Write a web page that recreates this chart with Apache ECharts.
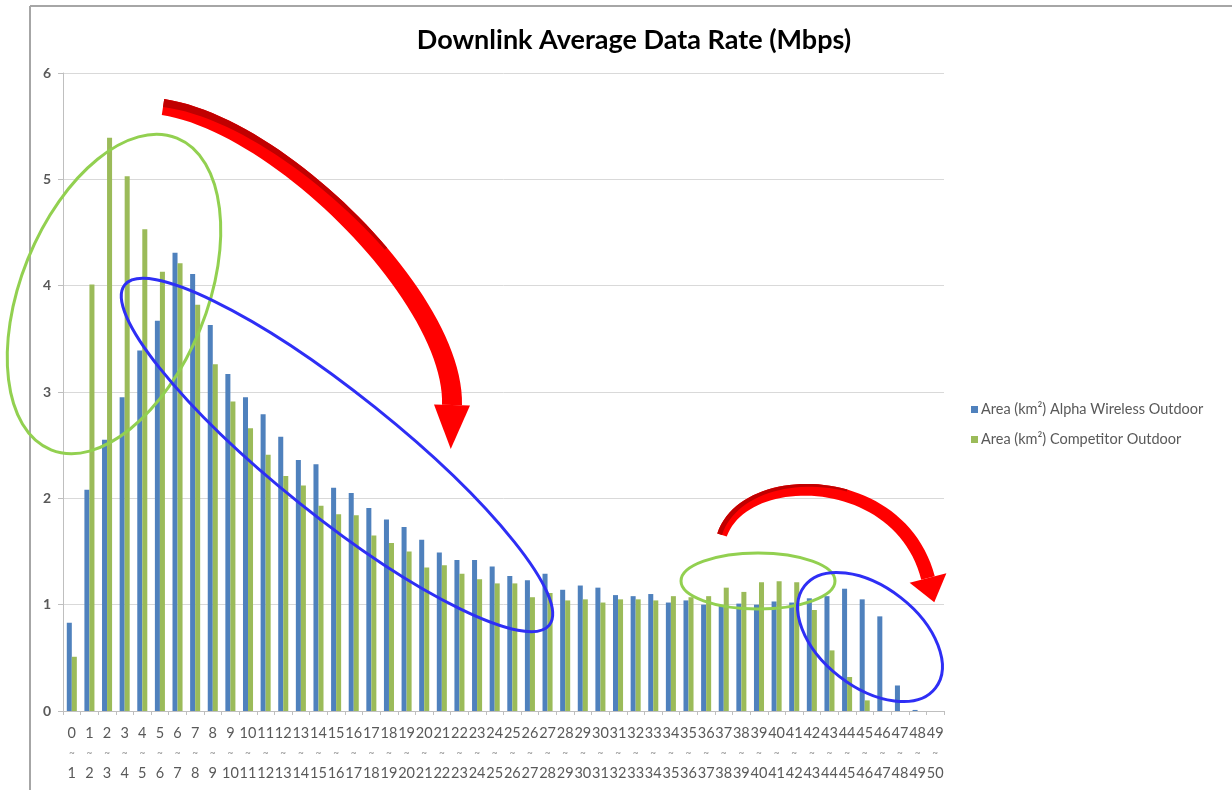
<!DOCTYPE html>
<html>
<head>
<meta charset="utf-8">
<script src="https://cdn.jsdelivr.net/npm/echarts@6/dist/echarts.min.js"></script>
<style>
  html, body { margin: 0; padding: 0; background: #ffffff; }
  #chart { width: 1232px; height: 790px; }
</style>
</head>
<body>
<div id="chart"></div>
<script>
// ---- Data ----
const categories = ['0~1','1~2','2~3','3~4','4~5','5~6','6~7','7~8','8~9','9~10',
  '10~11','11~12','12~13','13~14','14~15','15~16','16~17','17~18','18~19','19~20',
  '20~21','21~22','22~23','23~24','24~25','25~26','26~27','27~28','28~29','29~30',
  '30~31','31~32','32~33','33~34','34~35','35~36','36~37','37~38','38~39','39~40',
  '40~41','41~42','42~43','43~44','44~45','45~46','46~47','47~48','48~49','49~50'];
const alphaValues = [0.83, 2.08, 2.55, 2.95, 3.39, 3.67, 4.31, 4.11, 3.63, 3.17,
  2.95, 2.79, 2.58, 2.36, 2.32, 2.10, 2.05, 1.91, 1.80, 1.73,
  1.61, 1.49, 1.42, 1.42, 1.36, 1.27, 1.23, 1.29, 1.14, 1.18,
  1.16, 1.09, 1.08, 1.10, 1.02, 1.04, 1.00, 0.99, 1.01, 1.00,
  1.03, 1.02, 1.06, 1.08, 1.15, 1.05, 0.89, 0.24, 0.01, 0];
const competitorValues = [0.51, 4.01, 5.39, 5.03, 4.53, 4.13, 4.21, 3.82, 3.26, 2.91,
  2.66, 2.41, 2.21, 2.12, 1.93, 1.85, 1.84, 1.65, 1.58, 1.50,
  1.35, 1.37, 1.29, 1.24, 1.20, 1.20, 1.07, 1.11, 1.04, 1.05,
  1.02, 1.05, 1.05, 1.04, 1.08, 1.07, 1.08, 1.16, 1.12, 1.21,
  1.22, 1.21, 0.95, 0.57, 0.32, 0.10, 0, 0, 0, 0];
const seriesNames = ['Area (km²) Alpha Wireless Outdoor', 'Area (km²) Competitor Outdoor'];
const yTicks = [0, 1, 2, 3, 4, 5, 6];
const titleText = 'Downlink Average Data Rate (Mbps)';

// ---- Annotation helpers (decorative shapes drawn on top of the chart) ----
function cubic(p0, p1, p2, p3, t) {
  const u = 1 - t;
  return [
    u*u*u*p0[0] + 3*u*u*t*p1[0] + 3*u*t*t*p2[0] + t*t*t*p3[0],
    u*u*u*p0[1] + 3*u*u*t*p1[1] + 3*u*t*t*p2[1] + t*t*t*p3[1]
  ];
}
function cubicD(p0, p1, p2, p3, t) {
  const u = 1 - t;
  return [
    3*u*u*(p1[0]-p0[0]) + 6*u*t*(p2[0]-p1[0]) + 3*t*t*(p3[0]-p2[0]),
    3*u*u*(p1[1]-p0[1]) + 6*u*t*(p2[1]-p1[1]) + 3*t*t*(p3[1]-p2[1])
  ];
}
function arrowShapes(c, w0, w1, headHalf, headLen, dark) {
  const N = 48, left = [], right = [], darkL = [], darkR = [];
  for (let i = 0; i <= N; i++) {
    const t = i / N;
    const p = cubic(c[0], c[1], c[2], c[3], t);
    const d = cubicD(c[0], c[1], c[2], c[3], t);
    const len = Math.hypot(d[0], d[1]);
    const n = [-d[1] / len, d[0] / len];
    const w = (w0 + (w1 - w0) * t) / 2;
    left.push([p[0] + n[0]*w, p[1] + n[1]*w]);
    right.push([p[0] - n[0]*w, p[1] - n[1]*w]);
    if (t <= 0.6) {
      const dw = w * (1 - t / 0.6 * 0.7);
      darkL.push([p[0] - n[0]*w, p[1] - n[1]*w]);
      darkR.push([p[0] - n[0]*(w - dw), p[1] - n[1]*(w - dw)]);
    }
  }
  const pe = c[3];
  const de = cubicD(c[0], c[1], c[2], c[3], 1);
  const le = Math.hypot(de[0], de[1]);
  const dir = [de[0]/le, de[1]/le];
  const nn = [-dir[1], dir[0]];
  const head = [
    [pe[0] + nn[0]*headHalf, pe[1] + nn[1]*headHalf],
    [pe[0] + dir[0]*headLen, pe[1] + dir[1]*headLen],
    [pe[0] - nn[0]*headHalf, pe[1] - nn[1]*headHalf]
  ];
  const out = [
    { type: 'polygon', z: 100, shape: { points: left.concat(right.reverse()) }, style: { fill: '#FF0000' } },
    { type: 'polygon', z: 100, shape: { points: head }, style: { fill: '#FF0000' } }
  ];
  if (dark) {
    out.push({ type: 'polygon', z: 101, shape: { points: darkL.concat(darkR.reverse()) }, style: { fill: '#C00000' } });
  }
  return out;
}
function ellipse(cx, cy, rx, ry, deg, color) {
  return { type: 'ellipse', z: 100, x: cx, y: cy, rotation: deg * Math.PI / 180,
    shape: { cx: 0, cy: 0, rx: rx, ry: ry },
    style: { fill: 'none', stroke: color, lineWidth: 3 } };
}

const annotations = [].concat(
  [
    { type: 'line', z: 100, shape: { x1: 30, y1: 6, x2: 1232, y2: 6 }, style: { stroke: '#A6A6A6', lineWidth: 2 } },
    { type: 'line', z: 100, shape: { x1: 30, y1: 6, x2: 30, y2: 790 }, style: { stroke: '#A6A6A6', lineWidth: 2 } },
    ellipse(114, 294, 168, 93, 68, '#92D050'),
    ellipse(337, 455, 272, 61, -38.7, '#2E2EF5'),
    ellipse(758, 581, 77, 28, 0, '#92D050'),
    ellipse(870, 637, 83, 50, -38, '#2E2EF5')
  ],
  arrowShapes([[163, 107], [280, 125], [455, 300], [452, 405]], 16, 20, 18, 44, true),
  arrowShapes([[722, 535], [745, 468], [900, 470], [928, 578]], 10, 14, 19, 25, true)
);

const chart = echarts.init(document.getElementById('chart'), null, { renderer: 'canvas' });
chart.setOption({
  backgroundColor: '#ffffff',
  animation: false,
  title: {
    text: titleText,
    left: 629,
    textAlign: 'center',
    top: 22,
    textStyle: { fontFamily: 'Lato', fontWeight: 'bold', fontSize: 27, color: '#000000' }
  },
  legend: {
    orient: 'vertical',
    left: 966,
    top: 397,
    itemWidth: 7,
    itemHeight: 7,
    itemGap: 15,
    icon: 'rect',
    data: seriesNames,
    textStyle: { fontFamily: 'Lato', fontSize: 14.5, color: '#595959', lineHeight: 15, padding: [0, 0, 0, -2] }
  },
  grid: { left: 63, right: 288, top: 73, bottom: 79, containLabel: false },
  xAxis: {
    type: 'category',
    data: categories,
    boundaryGap: true,
    axisLine: { show: true, lineStyle: { color: '#BFBFBF', width: 1 } },
    axisTick: { show: true, length: 4, interval: 0, lineStyle: { color: '#BFBFBF' } },
    axisLabel: {
      interval: 0,
      margin: 12,
      formatter: function (v) {
        const parts = v.split('~');
        return '{n|' + parts[0] + '}\n{t|~}\n{n|' + parts[1] + '}';
      },
      rich: {
        n: { fontFamily: 'Lato', fontSize: 14.5, color: '#595959', lineHeight: 20 },
        t: { fontFamily: 'Lato', fontSize: 10, color: '#8C8C8C', lineHeight: 20 }
      }
    },
    splitLine: { show: false }
  },
  yAxis: {
    type: 'value',
    min: yTicks[0],
    max: yTicks[yTicks.length - 1],
    interval: 1,
    axisLine: { show: true, lineStyle: { color: '#BFBFBF', width: 1 } },
    axisTick: { show: true, length: 5, lineStyle: { color: '#BFBFBF' } },
    axisLabel: { margin: 12, fontFamily: 'Lato', fontWeight: 'bold', fontSize: 14, color: '#595959' },
    splitLine: { show: true, lineStyle: { color: '#D9D9D9', width: 1 } }
  },
  series: [
    {
      name: seriesNames[0], type: 'bar', data: alphaValues,
      barGap: '0%', barCategoryGap: '43%',
      itemStyle: { color: '#4F81BD' }
    },
    {
      name: seriesNames[1], type: 'bar', data: competitorValues,
      barGap: '0%', barCategoryGap: '43%',
      itemStyle: { color: '#9BBB59' }
    }
  ],
  graphic: { elements: annotations }
});
</script>
</body>
</html>
